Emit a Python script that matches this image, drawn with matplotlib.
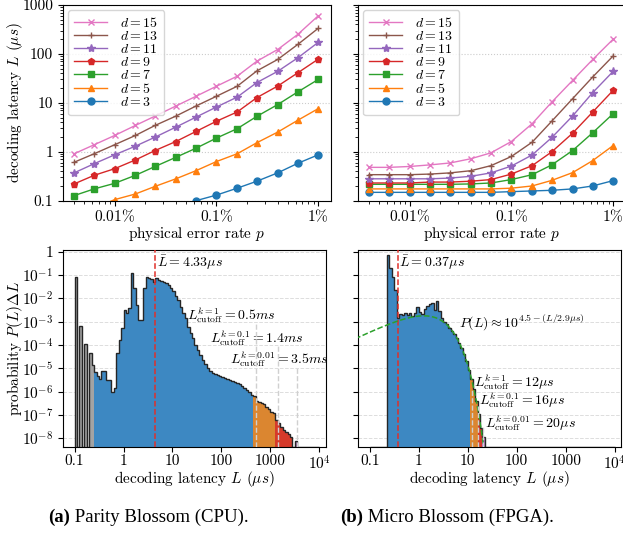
#!/usr/bin/env python3
"""
Latence de decodage : Parity Blossom (CPU) vs Micro Blossom (FPGA)
"""

import numpy as np
import matplotlib.pyplot as plt

plt.rcParams['font.family'] = 'cmr10'
plt.rcParams['mathtext.fontset'] = 'cm'
plt.rcParams['axes.formatter.use_mathtext'] = True
plt.rcParams['font.size'] = 11

# --- latence moyenne vs taux d'erreur physique ---
P_VALUES = [4.0e-5, 6.3e-5, 1.0e-4, 1.6e-4, 2.5e-4, 4.0e-4, 6.3e-4,
            1.0e-3, 1.6e-3, 2.5e-3, 4.0e-3, 6.3e-3, 1.0e-2]
DISTANCES = [3, 5, 7, 9, 11, 13, 15]
MARKERS = ['o', '^', 's', 'p', '*', '+', 'x']

CPU_LATENCY = {
    3: [0.012, 0.016, 0.022, 0.030, 0.040, 0.055, 0.10, 0.13, 0.18, 0.25, 0.37, 0.58, 0.865],
    5: [0.045, 0.070, 0.105, 0.137, 0.196, 0.28, 0.41, 0.63, 0.91, 1.53, 2.52, 4.4, 7.6],
    7: [0.127, 0.174, 0.226, 0.33, 0.50, 0.77, 1.18, 1.9, 2.96, 5.3, 9.2, 16.7, 30],
    9: [0.22, 0.33, 0.45, 0.68, 1.06, 1.62, 2.6, 4.2, 6.5, 12.8, 22, 41, 78],
    11: [0.37, 0.57, 0.865, 1.30, 1.99, 3.19, 5.1, 8.2, 13.1, 26, 44, 83, 172],
    13: [0.61, 0.91, 1.39, 2.15, 3.45, 5.36, 8.6, 13.6, 21.8, 45, 77, 156, 333],
    15: [0.91, 1.39, 2.15, 3.45, 5.36, 8.6, 13.6, 21.8, 35, 71, 123, 250, 600],
}
FPGA_LATENCY = {
    3: [0.148, 0.148, 0.148, 0.148, 0.148, 0.148, 0.148, 0.153, 0.158, 0.163, 0.174, 0.20, 0.257],
    5: [0.174, 0.174, 0.174, 0.174, 0.174, 0.174, 0.174, 0.18, 0.20, 0.26, 0.375, 0.66, 1.34],
    7: [0.216, 0.216, 0.216, 0.216, 0.216, 0.22, 0.23, 0.27, 0.34, 0.54, 1.06, 2.45, 6.0],
    9: [0.23, 0.23, 0.23, 0.24, 0.24, 0.25, 0.27, 0.35, 0.52, 1.0, 2.4, 6.5, 18],
    11: [0.28, 0.28, 0.28, 0.28, 0.29, 0.315, 0.37, 0.51, 0.86, 1.96, 5.4, 16.2, 44],
    13: [0.34, 0.34, 0.34, 0.35, 0.37, 0.41, 0.52, 0.80, 1.57, 4.24, 12.2, 33.8, 91],
    15: [0.48, 0.48, 0.50, 0.54, 0.59, 0.72, 0.95, 1.62, 3.75, 10.4, 28.8, 77, 200],
}

# --- distribution de latence (log10 de P(L)dL), 20 classes par decade de 0.1 a 1e4 us ---
BINS_PER_DECADE = 20
CPU_LOG_PROB = [
    -1.07, None, -3.18, None, -3.96, None, -4.34, -4.86, -5.17, -5.33,
    -5.47, -5.11, -5.11, -5.50, -5.50, -6.00, -5.83, -4.33, -3.78, -3.28,
    -2.50, -2.64, -2.40, -0.93, -1.57, -2.28, -2.93, -2.93, -1.57, -1.07,
    -1.11, -1.18, -1.30, -1.12, -1.20, -1.25, -1.30, -1.36, -1.43, -1.54,
    -1.68, -1.90, -2.07, -2.36, -2.61, -2.86, -3.21, -3.50, -3.71, -4.00,
    -4.21, -4.43, -4.64, -4.83, -5.00, -5.11, -5.18, -5.24, -5.28, -5.33,
    -5.37, -5.42, -5.46, -5.49, -5.53, -5.58, -5.63, -5.68, -5.74, -5.82,
    -5.92, -6.02, -6.12, -6.17, -6.39, -6.43, -6.50, -6.54, -6.64, -6.76,
    -6.86, -6.93, -7.21, -7.36, -7.50, -7.64, -7.71, -7.81, -7.93, None,
    -8.10, None, None, None, None, None, None, None, None, None,
]
FPGA_LOG_PROB = [
    None, None, None, None, None, None, None, -0.14, -0.71, -1.10,
    -1.65, -2.85, -2.65, -2.72, -2.62, -2.72, -2.62, -2.76, -2.62, -2.36,
    -2.58, -2.68, -2.47, -2.33, -2.26, -2.19, -2.52, -2.12, -2.55, -2.85,
    -3.00, -3.12, -3.25, -3.38, -3.52, -3.70, -3.90, -4.12, -4.40, -4.70,
    -5.05, -5.45, -5.90, -6.40, -6.95, -7.55, -7.95, None, None, None,
] + [None] * 50
CPU_GRAY_BINS = 8

CPU_MEAN = 4.33
FPGA_MEAN = 0.37
CPU_CUTOFFS = [500, 1400, 3500]
FPGA_CUTOFFS = [12, 16, 20]
CPU_CUTOFF_LABELS = [r'$L^{k=1}_{\mathrm{cutoff}} = 0.5ms$',
                     r'$L^{k=0.1}_{\mathrm{cutoff}} = 1.4ms$',
                     r'$L^{k=0.01}_{\mathrm{cutoff}} = 3.5ms$']
FPGA_CUTOFF_LABELS = [r'$L^{k=1}_{\mathrm{cutoff}} = 12\mu s$',
                      r'$L^{k=0.1}_{\mathrm{cutoff}} = 16\mu s$',
                      r'$L^{k=0.01}_{\mathrm{cutoff}} = 20\mu s$']
# ajustement exponentiel : P(L) = 10^(4.5 - L/2.9us) par seconde
FIT_EXP = 4.5
FIT_TAU = 2.9

X_TICKS = [0.1, 1, 10, 100, 1000, 1e4]
X_TICK_LABELS = ['0.1', '1', '10', '100', '1000', r'$10^4$']
Y_TICKS = [1, 1e-1, 1e-2, 1e-3, 1e-4, 1e-5, 1e-6, 1e-7, 1e-8]
Y_TICK_LABELS = ['1'] + [r'$10^{-%d}$' % k for k in range(1, 9)]

SEG_COLORS = ['#3d88c2', '#db8630', '#d63a2a', '#b86cc0']
GRAY = '#a3a3a3'
YMIN = 4.3e-9
YMAX = 1.18


def plot_latency_vs_p(ax, latency, show_labels):
    for d, m in zip(DISTANCES, MARKERS):
        ms = 6 if m == '*' else 5
        ax.plot(P_VALUES, latency[d], marker=m, ms=ms, lw=1.0, mew=1.0,
                label=r'$d = %d$' % d)
    ax.set_xscale('log')
    ax.set_yscale('log')
    ax.set_xlim(10 ** -4.507, 10 ** -1.877)
    ax.set_ylim(0.1, 1000)
    ax.set_xticks([1e-4, 1e-3, 1e-2], [r'$0.01\%$', r'$0.1\%$', r'$1\%$'])
    ax.tick_params(axis='x', which='major', pad=2)
    ax.set_yticks([0.1, 1, 10, 100, 1000])
    if show_labels:
        ax.set_yticklabels(['0.1', '1', '10', '100', '1000'])
        ax.set_ylabel(r'decoding latency $L$ ($\mu s$)')
        ax.yaxis.set_label_coords(-0.142, 0.5)
    else:
        ax.set_yticklabels([])
    ax.set_xlabel(r'physical error rate $p$', labelpad=0)
    ax.yaxis.grid(True, which='major', ls=':', color='#cccccc', lw=0.8)
    h, l = ax.get_legend_handles_labels()
    ax.legend(h[::-1], l[::-1], loc='upper left', fontsize=10,
              labelspacing=0.0, handlelength=2.4, borderpad=0.45,
              handletextpad=0.9, borderaxespad=0.35)


def plot_distribution(ax, log_prob, cutoffs, n_gray, show_labels):
    edges = np.logspace(-1, 4, 5 * BINS_PER_DECADE + 1)
    vals = np.array([10.0 ** v if v is not None else YMIN for v in log_prob])
    cat = np.searchsorted(cutoffs, edges[1:])
    idx = np.arange(len(vals))
    groups = [(idx < n_gray, GRAY)]
    for k, c in enumerate(SEG_COLORS):
        groups.append(((cat == k) & (idx >= n_gray), c))
    for mask, c in groups:
        ax.stairs(np.where(mask, vals, YMIN), edges, baseline=YMIN,
                  fill=True, color=c, lw=0, zorder=2)
    ax.stairs(vals, edges, baseline=YMIN, color='#262626', lw=1.0, zorder=3)
    ax.set_xscale('log')
    ax.set_yscale('log')
    ax.set_xlim(0.058, 1.35e4)
    ax.set_ylim(YMIN, YMAX)
    ax.set_xticks(X_TICKS, X_TICK_LABELS)
    ax.tick_params(axis='x', which='major', pad=2)
    ax.set_yticks(Y_TICKS)
    ax.yaxis.set_minor_locator(plt.NullLocator())
    if show_labels:
        ax.set_yticklabels(Y_TICK_LABELS)
        ax.set_ylabel(r'probability $P(L)\Delta L$')
        ax.yaxis.set_label_coords(-0.145, 0.5)
    else:
        ax.set_yticklabels([])
    ax.set_xlabel(r'decoding latency $L$ ($\mu s$)', labelpad=-3)
    ax.yaxis.grid(True, which='major', ls='--', color='#dddddd', lw=0.7, zorder=0)
    ax.set_axisbelow(True)


def main():
    fig = plt.figure(figsize=(6.23, 5.37), dpi=100)
    ax_a = fig.add_axes([0.1011, 0.6263, 0.4297, 0.3644])
    ax_b = fig.add_axes([0.5746, 0.6263, 0.4297, 0.3644])
    ax_c = fig.add_axes([0.1011, 0.1676, 0.4217, 0.3669])
    ax_d = fig.add_axes([0.5751, 0.1676, 0.4217, 0.3669])

    plot_latency_vs_p(ax_a, CPU_LATENCY, True)
    plot_latency_vs_p(ax_b, FPGA_LATENCY, False)

    # Parity Blossom
    plot_distribution(ax_c, CPU_LOG_PROB, CPU_CUTOFFS, CPU_GRAY_BINS, True)
    ax_c.axvline(CPU_MEAN, color='#e0302a', ls='--', lw=1.1, zorder=4)
    ax_c.text(4.9, 0.34, r'$\bar{L} = 4.33\mu s$', fontsize=10, va='center')
    tops = [8e-4, 9e-5, 1.2e-5]
    pos = [(19.8, 1.9e-3), (58, 2.0e-4), (150, 2.5e-5)]
    for c, t, (x, y), lab in zip(CPU_CUTOFFS, tops, pos, CPU_CUTOFF_LABELS):
        ax_c.vlines(c, YMIN, t, color='#d0d0d0', ls='--', lw=1.0, zorder=4)
        ax_c.text(x, y, lab, fontsize=10, va='center')

    # Micro Blossom
    plot_distribution(ax_d, FPGA_LOG_PROB, FPGA_CUTOFFS, 0, False)
    ax_d.axvline(FPGA_MEAN, color='#e0302a', ls='--', lw=1.1, zorder=4)
    ax_d.text(0.39, 0.34, r'$\bar{L} = 0.37\mu s$', fontsize=10, va='center')
    dl = 10 ** (1.0 / BINS_PER_DECADE) - 1
    lfit = np.logspace(-1.3, np.log10(30), 300)
    pfit = 10 ** (FIT_EXP - lfit / FIT_TAU) * 1e-6 * lfit * dl
    ax_d.plot(lfit, pfit, color='#2ca02c', ls='--', lw=1.1, zorder=4)
    ax_d.text(6.7, 1.0e-3, r'$P(L) \approx 10^{4.5-(L/2.9\mu s)}$',
              fontsize=10, va='center')
    tops = [1.2e-6, 2.5e-7, 3e-8]
    pos = [(13.7, 2.7e-6), (17.3, 4.4e-7), (23, 4.6e-8)]
    for c, t, (x, y), lab in zip(FPGA_CUTOFFS, tops, pos, FPGA_CUTOFF_LABELS):
        ax_d.vlines(c, YMIN, t, color='#d0d0d0', ls='--', lw=1.0, zorder=4)
        ax_d.text(x, y, lab, fontsize=10, va='center')

    # legendes des sous-figures
    for x, tag, txt in [(48, '(a)', ' Parity Blossom (CPU).'),
                        (340, '(b)', ' Micro Blossom (FPGA).')]:
        t = fig.text(x / 623, 1 - 517 / 537, tag, fontsize=13.5,
                     family='Liberation Serif', weight='bold', va='center')
        ax_a.annotate(txt, xy=(1, 0), xycoords=t, va='bottom', ha='left',
                      fontsize=13.5, family='Liberation Serif',
                      annotation_clip=False)

    fig.savefig('out.png', dpi=100)
    plt.close(fig)


if __name__ == '__main__':
    main()
